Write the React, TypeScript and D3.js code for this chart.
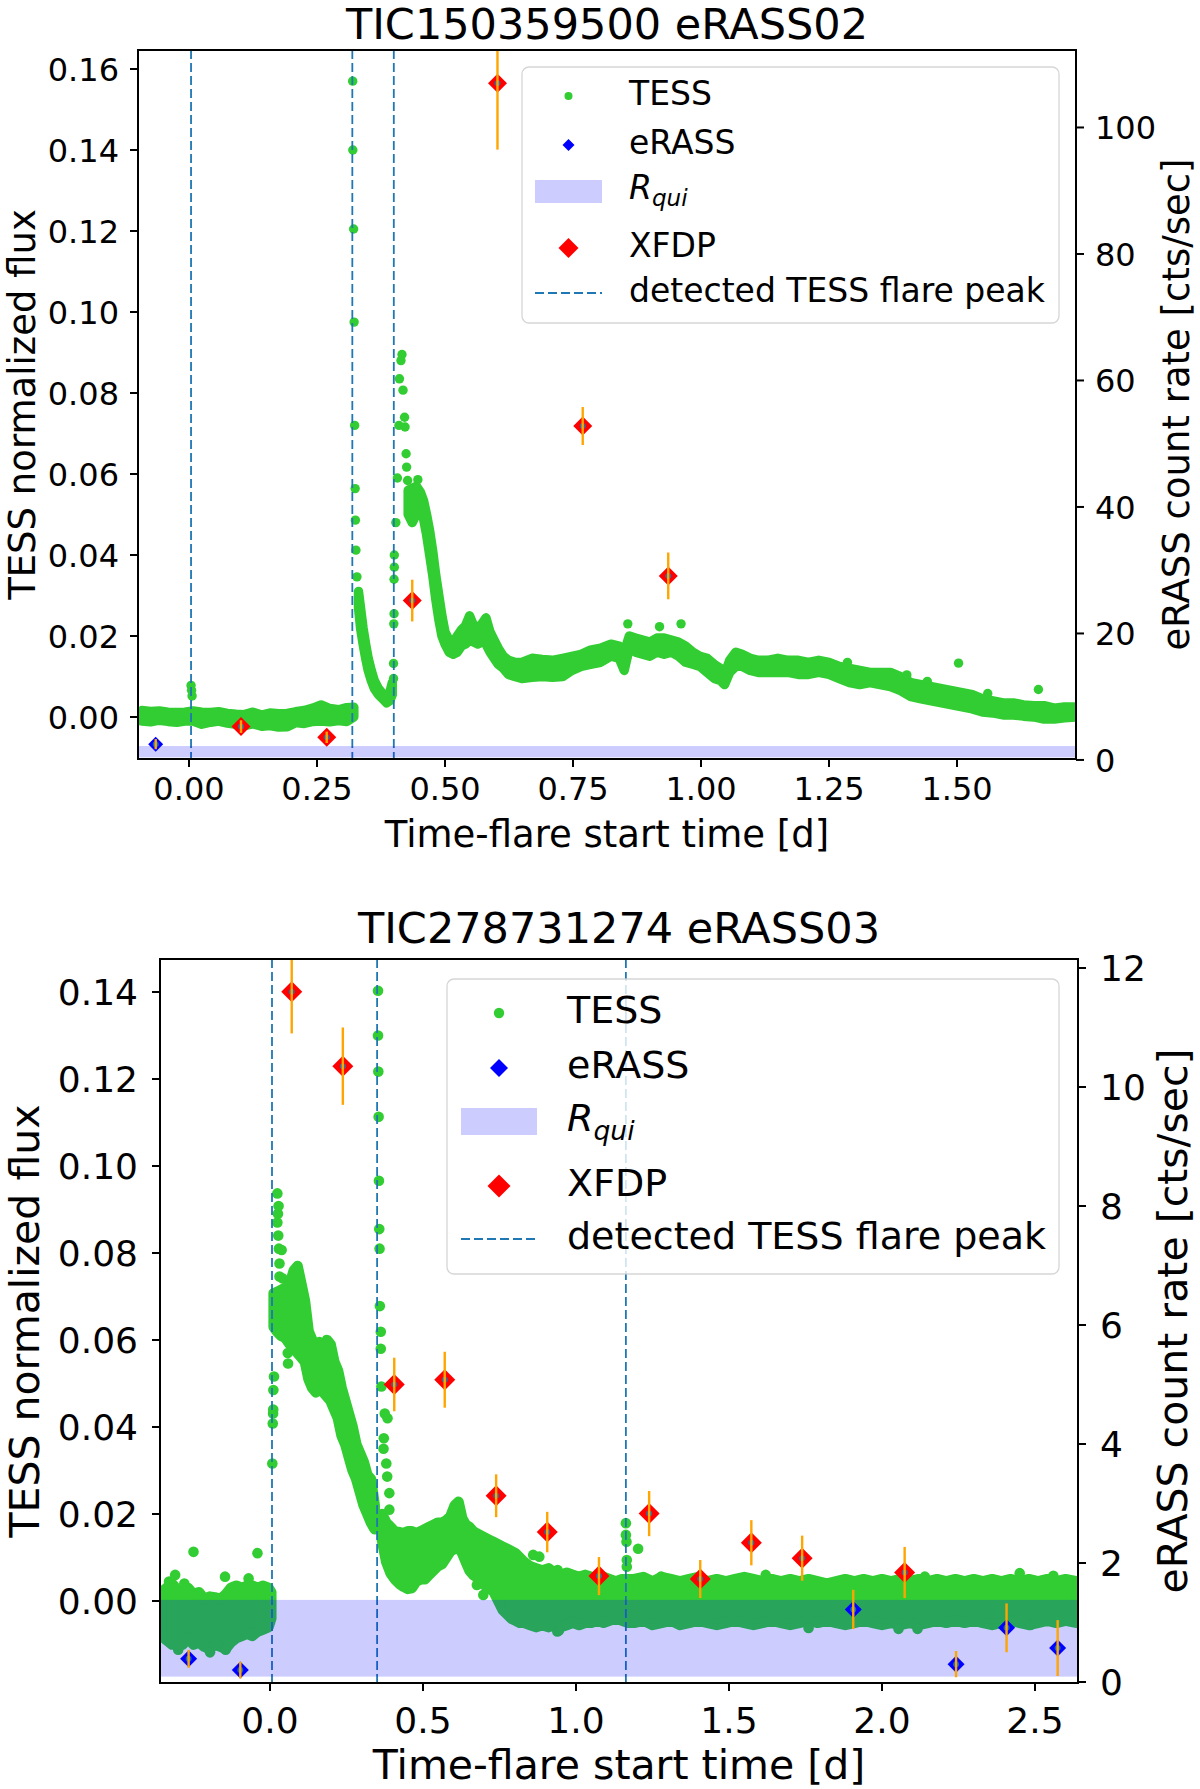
import React from 'react';
import * as d3 from 'd3';

type Row = [number, number, number]; // time, low flux, high flux of the dense point cloud
type Pt = [number, number];

const FONT = 'DejaVu Sans, Verdana, sans-serif';
const GREEN = '#32cd32';
const PEAK_BLUE = '#1f77b4';

// ---------- TIC150359500 eRASS02 ----------
const tessTopQuiet: Row[] = [
  [-0.092, -0.0010, 0.0016], [-0.075, -0.0012, 0.0014], [-0.058, -0.0008, 0.0015],
  [-0.041, -0.0011, 0.0012], [-0.024, -0.0013, 0.0011], [-0.008, -0.0010, 0.0012],
  [0.008, -0.0010, 0.0015], [0.025, -0.0018, 0.0012], [0.042, -0.0013, 0.0011],
  [0.058, -0.0010, 0.0013], [0.075, -0.0015, 0.0009], [0.092, -0.0018, 0.0007],
  [0.108, -0.0021, 0.0006], [0.125, -0.0017, 0.0012], [0.142, -0.0023, 0.0005],
  [0.158, -0.0021, 0.0010], [0.175, -0.0025, 0.0008], [0.192, -0.0024, 0.0009],
  [0.208, -0.0014, 0.0013], [0.225, -0.0016, 0.0016], [0.242, -0.0011, 0.0022],
  [0.258, -0.0010, 0.0030], [0.275, -0.0012, 0.0021], [0.292, -0.0009, 0.0018],
  [0.308, -0.0011, 0.0023], [0.322, 0.0000, 0.0024],
];
const tessTopDecay1: Row[] = [
  [0.331, 0.027, 0.031], [0.335, 0.022, 0.027], [0.340, 0.018, 0.022], [0.345, 0.0145, 0.018],
  [0.350, 0.0115, 0.0145], [0.356, 0.009, 0.0115], [0.362, 0.007, 0.009], [0.370, 0.0055, 0.007],
  [0.378, 0.0045, 0.0058], [0.386, 0.0035, 0.005], [0.392, 0.004, 0.006], [0.397, 0.0055, 0.0085],
];
const tessTopDecay2: Row[] = [
  [0.428, 0.0500, 0.0560], [0.436, 0.0480, 0.0565], [0.444, 0.0500, 0.0570], [0.452, 0.0510, 0.0555],
  [0.458, 0.0490, 0.0535], [0.464, 0.0450, 0.0500], [0.470, 0.0400, 0.0460], [0.476, 0.0350, 0.0410],
  [0.482, 0.0290, 0.0350], [0.488, 0.0240, 0.0300], [0.494, 0.0200, 0.0250], [0.500, 0.0180, 0.0210],
  [0.508, 0.0160, 0.0190], [0.516, 0.0155, 0.0185], [0.524, 0.0160, 0.0200], [0.532, 0.0175, 0.0215],
  [0.540, 0.0180, 0.0225], [0.548, 0.0190, 0.0250], [0.556, 0.0185, 0.0225], [0.564, 0.0180, 0.0220],
  [0.572, 0.0185, 0.0230], [0.580, 0.0180, 0.0245], [0.588, 0.0160, 0.0210], [0.596, 0.0145, 0.0190],
  [0.604, 0.0130, 0.0170], [0.614, 0.0120, 0.0150], [0.624, 0.0105, 0.0140], [0.636, 0.0100, 0.0135],
  [0.650, 0.0095, 0.0135], [0.670, 0.0098, 0.0145], [0.690, 0.0100, 0.0142], [0.710, 0.0098, 0.0140],
  [0.730, 0.0100, 0.0145], [0.748, 0.0115, 0.0150], [0.766, 0.0125, 0.0155], [0.784, 0.0130, 0.0165],
  [0.804, 0.0135, 0.0170], [0.824, 0.0150, 0.0180], [0.840, 0.0145, 0.0175], [0.850, 0.0115, 0.0160],
  [0.860, 0.0170, 0.0200], [0.872, 0.0160, 0.0195], [0.886, 0.0155, 0.0190], [0.900, 0.0150, 0.0185],
  [0.914, 0.0160, 0.0195], [0.928, 0.0155, 0.0195], [0.942, 0.0160, 0.0190], [0.956, 0.0150, 0.0185],
  [0.970, 0.0135, 0.0175], [0.984, 0.0130, 0.0160], [0.998, 0.0125, 0.0150], [1.012, 0.0110, 0.0145],
  [1.026, 0.0095, 0.0130], [1.038, 0.0090, 0.0120], [1.046, 0.0080, 0.0105], [1.056, 0.0110, 0.0140],
  [1.068, 0.0125, 0.0160], [1.080, 0.0125, 0.0155], [1.096, 0.0115, 0.0145], [1.112, 0.0110, 0.0140],
  [1.130, 0.0110, 0.0140], [1.150, 0.0110, 0.0145], [1.170, 0.0110, 0.0140], [1.190, 0.0105, 0.0140],
  [1.210, 0.0105, 0.0135], [1.230, 0.0110, 0.0140], [1.250, 0.0105, 0.0135], [1.270, 0.0095, 0.0125],
  [1.290, 0.0085, 0.0120], [1.310, 0.0080, 0.0115], [1.330, 0.0085, 0.0110], [1.350, 0.0080, 0.0110],
  [1.370, 0.0075, 0.0110], [1.390, 0.0065, 0.0100], [1.410, 0.0050, 0.0085], [1.430, 0.0045, 0.0080],
  [1.450, 0.0040, 0.0075], [1.470, 0.0035, 0.0070], [1.490, 0.0030, 0.0065], [1.510, 0.0025, 0.0060],
  [1.530, 0.0020, 0.0055], [1.550, 0.0012, 0.0045], [1.570, 0.0010, 0.0040], [1.590, 0.0005, 0.0035],
  [1.610, 0.0005, 0.0035], [1.630, 0.0002, 0.0030], [1.650, 0.0000, 0.0028], [1.670, -0.0005, 0.0028],
  [1.690, -0.0005, 0.0022], [1.710, -0.0002, 0.0025], [1.732, 0.0000, 0.0025],
];
const tessTopSingles: Pt[] = [
  [0.004, 0.0078], [0.005, 0.0066], [0.006, 0.0052],
  [0.3197, 0.157], [0.320, 0.140], [0.3215, 0.1205], [0.3225, 0.0975], [0.3235, 0.072],
  [0.3245, 0.0564], [0.325, 0.0486], [0.326, 0.0412], [0.328, 0.0346],
  [0.3995, 0.0095], [0.3995, 0.0132], [0.400, 0.023], [0.4005, 0.0255], [0.4005, 0.034],
  [0.401, 0.037], [0.401, 0.040], [0.404, 0.048], [0.407, 0.059], [0.410, 0.072],
  [0.411, 0.0835], [0.414, 0.088], [0.416, 0.0895], [0.418, 0.0807], [0.421, 0.074],
  [0.422, 0.0716], [0.424, 0.065], [0.425, 0.0617], [0.427, 0.0584], [0.447, 0.0586],
  [0.857, 0.023], [0.919, 0.0223], [0.961, 0.023], [1.503, 0.0133], [1.659, 0.0068],
  [1.286, 0.0135], [1.402, 0.0104], [1.442, 0.0088], [1.560, 0.0058],
];
const peaksTop = [0.004, 0.319, 0.400];
const quietTop: [number, number] = [0.4, 2.2];
const erassTopTime = [-0.065, 0.1016, 0.269, 0.436, 0.6025, 0.769, 0.936];
const erassTopRate = [2.5, 5.27, 3.58, 25.2, 107.0, 52.8, 29.1];
const erassTopErr = [0.8, 1.0, 0.9, 3.3, 10.5, 3.0, 3.7];
const xfdpTopFlag = [0, 1, 1, 1, 1, 1, 1];

// ---------- TIC278731274 eRASS03 ----------
const tessBotQuiet: Row[] = [
  [-0.355, -0.0080, 0.0020], [-0.338, -0.0090, 0.0030], [-0.320, -0.0100, 0.0040],
  [-0.302, -0.0095, 0.0025], [-0.285, -0.0100, 0.0020], [-0.268, -0.0085, 0.0030],
  [-0.250, -0.0100, 0.0015], [-0.232, -0.0095, 0.0020], [-0.215, -0.0105, 0.0005],
  [-0.197, -0.0110, 0.0010], [-0.180, -0.0100, 0.0008], [-0.162, -0.0105, 0.0005],
  [-0.145, -0.0110, 0.0015], [-0.128, -0.0095, 0.0030], [-0.110, -0.0085, 0.0035],
  [-0.092, -0.0080, 0.0030], [-0.075, -0.0075, 0.0035], [-0.058, -0.0080, 0.0035],
  [-0.040, -0.0070, 0.0030], [-0.022, -0.0065, 0.0035], [-0.005, -0.0060, 0.0030],
  [0.004, -0.0040, 0.0020],
];
const tessBotDecay1: Row[] = [
  [0.012, 0.063, 0.0707], [0.022, 0.062, 0.071], [0.036, 0.061, 0.0715], [0.050, 0.0605, 0.072],
  [0.065, 0.059, 0.073], [0.078, 0.058, 0.076], [0.090, 0.057, 0.077], [0.102, 0.056, 0.073],
  [0.114, 0.055, 0.069], [0.126, 0.051, 0.062], [0.138, 0.049, 0.060], [0.150, 0.048, 0.059],
  [0.162, 0.0485, 0.0595], [0.174, 0.048, 0.058], [0.186, 0.047, 0.060], [0.198, 0.046, 0.059],
  [0.210, 0.044, 0.055], [0.222, 0.042, 0.053], [0.234, 0.038, 0.049], [0.246, 0.036, 0.046],
  [0.258, 0.033, 0.043], [0.270, 0.030, 0.040], [0.282, 0.028, 0.036], [0.294, 0.025, 0.034],
  [0.306, 0.022, 0.032], [0.318, 0.020, 0.029], [0.330, 0.018, 0.028], [0.342, 0.0165, 0.022],
];
const tessBotDecay2: Row[] = [
  [0.366, 0.014, 0.020], [0.380, 0.009, 0.018], [0.394, 0.0064, 0.017], [0.408, 0.005, 0.016],
  [0.422, 0.004, 0.0158], [0.436, 0.0033, 0.0156], [0.450, 0.0028, 0.016], [0.464, 0.003, 0.016],
  [0.478, 0.0045, 0.0156], [0.492, 0.005, 0.016], [0.506, 0.005, 0.0165], [0.520, 0.006, 0.017],
  [0.534, 0.007, 0.0175], [0.548, 0.008, 0.018], [0.562, 0.0085, 0.018], [0.576, 0.010, 0.0185],
  [0.590, 0.0115, 0.0195], [0.604, 0.012, 0.022], [0.616, 0.0125, 0.0228], [0.628, 0.011, 0.019],
  [0.640, 0.009, 0.0175], [0.652, 0.007, 0.017], [0.664, 0.006, 0.016], [0.676, 0.0055, 0.0155],
  [0.690, 0.005, 0.015], [0.704, 0.0045, 0.0145], [0.718, 0.003, 0.014], [0.732, 0.002, 0.0135],
  [0.746, 0.000, 0.013], [0.760, -0.002, 0.0125], [0.774, -0.003, 0.012], [0.788, -0.004, 0.0115],
  [0.802, -0.0045, 0.011], [0.816, -0.005, 0.010], [0.830, -0.005, 0.009], [0.850, -0.0055, 0.008],
  [0.870, -0.006, 0.0075], [0.890, -0.0055, 0.007], [0.910, -0.006, 0.0075], [0.930, -0.0055, 0.0065],
  [0.950, -0.006, 0.006], [0.970, -0.0055, 0.0065], [0.990, -0.005, 0.006], [1.010, -0.0055, 0.0055],
  [1.030, -0.005, 0.006], [1.050, -0.005, 0.0055], [1.070, -0.0045, 0.005], [1.090, -0.005, 0.0055],
  [1.110, -0.0045, 0.005], [1.130, -0.004, 0.0045], [1.150, -0.0045, 0.005], [1.170, -0.005, 0.005],
  [1.190, -0.0050, 0.0050], [1.220, -0.0045, 0.0055], [1.250, -0.0055, 0.0045], [1.280, -0.0050, 0.0055],
  [1.310, -0.0045, 0.0050], [1.340, -0.0055, 0.0045], [1.370, -0.0050, 0.0050], [1.400, -0.0045, 0.0055],
  [1.430, -0.0050, 0.0045], [1.460, -0.0055, 0.0050], [1.490, -0.0050, 0.0045], [1.520, -0.0045, 0.0050],
  [1.550, -0.0050, 0.0055], [1.580, -0.0055, 0.0050], [1.610, -0.0050, 0.0045], [1.640, -0.0045, 0.0050],
  [1.670, -0.0050, 0.0045], [1.700, -0.0055, 0.0050], [1.730, -0.0050, 0.0045], [1.760, -0.0045, 0.0050],
  [1.790, -0.0050, 0.0045], [1.820, -0.0045, 0.0040], [1.850, -0.0050, 0.0045], [1.880, -0.0055, 0.0050],
  [1.910, -0.0050, 0.0045], [1.940, -0.0045, 0.0050], [1.970, -0.0050, 0.0045], [2.000, -0.0055, 0.0050],
  [2.030, -0.0050, 0.0045], [2.060, -0.0055, 0.0050], [2.090, -0.0050, 0.0045], [2.120, -0.0055, 0.0050],
  [2.150, -0.0050, 0.0045], [2.180, -0.0045, 0.0050], [2.210, -0.0050, 0.0045], [2.240, -0.0045, 0.0050],
  [2.270, -0.0050, 0.0045], [2.300, -0.0045, 0.0050], [2.330, -0.0050, 0.0045], [2.360, -0.0055, 0.0050],
  [2.390, -0.0050, 0.0045], [2.420, -0.0045, 0.0050], [2.450, -0.0050, 0.0045], [2.480, -0.0055, 0.0050],
  [2.510, -0.0050, 0.0045], [2.540, -0.0045, 0.0050], [2.570, -0.0050, 0.0045], [2.600, -0.0045, 0.0050],
  [2.637, -0.0050, 0.0045],
];
const tessBotSingles: Pt[] = [
  [-0.310, 0.0060], [-0.250, 0.0113], [-0.147, 0.0056], [-0.041, 0.0110], [-0.196, -0.0118], [-0.145, -0.0112],
  [-0.330, 0.0045], [-0.280, 0.0040], [-0.070, 0.0052], [-0.300, -0.0112],
  [0.0076, 0.0316], [0.009, 0.0408], [0.010, 0.0431], [0.0105, 0.044], [0.011, 0.0485], [0.013, 0.0516],
  [0.016, 0.0646], [0.019, 0.0677], [0.024, 0.0937], [0.028, 0.0908], [0.026, 0.089], [0.024, 0.087],
  [0.027, 0.084], [0.029, 0.081], [0.031, 0.0776], [0.031, 0.0746], [0.0405, 0.0742], [0.038, 0.0807],
  [0.058, 0.057], [0.059, 0.0546],
  [0.353, 0.1403], [0.353, 0.130], [0.354, 0.1217], [0.355, 0.1113], [0.356, 0.0966], [0.357, 0.0855],
  [0.358, 0.081], [0.359, 0.0678], [0.362, 0.0619], [0.362, 0.058], [0.364, 0.0493], [0.375, 0.0431],
  [0.384, 0.042], [0.372, 0.0374], [0.371, 0.035], [0.380, 0.0316], [0.383, 0.0286], [0.390, 0.0248],
  [0.390, 0.021],
  [0.676, 0.0037], [0.700, 0.0037], [0.720, 0.0037], [0.697, 0.0014], [0.860, 0.0106], [0.880, 0.0102],
  [0.940, 0.0071], [0.939, -0.0070], [0.944, -0.0068],
  [1.163, 0.0179], [1.163, 0.0152], [1.165, 0.0136], [1.203, 0.012], [1.166, 0.0094], [1.166, 0.0079],
  [1.278, 0.0056], [1.620, 0.0060], [1.760, -0.0062], [2.054, -0.0064], [2.116, -0.0064], [2.140, 0.0056],
  [2.450, 0.0064], [2.485, -0.0055], [2.560, 0.0058],
];
const peaksBot = [0.0065, 0.350, 1.163];
const quietBot: [number, number] = [0.09, 1.38];
const erassBotTime = [-0.266, -0.097, 0.071, 0.238, 0.406, 0.571, 0.739, 0.906, 1.075, 1.239, 1.406, 1.573, 1.739, 1.906, 2.074, 2.242, 2.407, 2.574];
const erassBotRate = [0.39, 0.20, 11.6, 10.35, 5.0, 5.08, 3.13, 2.52, 1.78, 2.83, 1.73, 2.34, 2.08, 1.22, 1.84, 0.30, 0.91, 0.57];
const erassBotErr = [0.15, 0.14, 0.7, 0.65, 0.45, 0.47, 0.36, 0.34, 0.32, 0.38, 0.32, 0.38, 0.38, 0.33, 0.43, 0.22, 0.41, 0.47];
const xfdpBotFlag = [0, 0, 1, 1, 1, 1, 1, 1, 1, 1, 1, 1, 1, 0, 1, 0, 0, 0];

// ticks
const topXTicks = [0, 0.25, 0.5, 0.75, 1.0, 1.25, 1.5];
const topYTicks = [0, 0.02, 0.04, 0.06, 0.08, 0.1, 0.12, 0.14, 0.16];
const topRTicks = [0, 20, 40, 60, 80, 100];
const botXTicks = [0, 0.5, 1.0, 1.5, 2.0, 2.5];
const botYTicks = [0, 0.02, 0.04, 0.06, 0.08, 0.1, 0.12, 0.14];
const botRTicks = [0, 2, 4, 6, 8, 10, 12];

interface LegendCfg {
  l: number; t: number; r: number; b: number;
  hx0: number; hx1: number; tx: number; rows: number[]; patch: [number, number];
  dotR: number; erassH: number; xfdpH: number; fs: number;
}
interface PanelCfg {
  id: string; title: string;
  l: number; r: number; t: number; b: number;
  xDomain: [number, number]; yDomain: [number, number]; rDomain: [number, number];
  xTicks: number[]; yTicks: number[]; rTicks: number[]; xFmt: string;
  bands: Row[][]; singles: Pt[]; peaks: number[]; quiet: [number, number];
  eT: number[]; eR: number[]; eE: number[]; xf: number[];
  dotR: number; erassH: number; xfdpH: number;
  fsTitle: number; fsLabel: number; fsTick: number;
  titleY: number; xTickY: number; xLabelY: number; yLabelX: number; rLabelX: number; tickGap: number;
  legend: LegendCfg;
}

const diamond = (cx: number, cy: number, h: number) =>
  `M${cx},${cy - h}L${cx + h},${cy}L${cx},${cy + h}L${cx - h},${cy}Z`;

function Legend({ L }: { L: LegendCfg }) {
  const cx = (L.hx0 + L.hx1) / 2;
  const base = (y: number) => y + 0.35 * L.fs - 3;
  return (
    <g fontSize={L.fs}>
      <rect x={L.l} y={L.t} width={L.r - L.l} height={L.b - L.t} rx={7}
        fill="#ffffff" fillOpacity={0.8} stroke="#cccccc" strokeOpacity={0.8} strokeWidth={1.3} />
      <circle cx={cx} cy={L.rows[0]} r={L.dotR} fill={GREEN} />
      <text x={L.tx} y={base(L.rows[0])}>TESS</text>
      <path d={diamond(cx, L.rows[1], L.erassH)} fill="#0000ff" />
      <text x={L.tx} y={base(L.rows[1])}>eRASS</text>
      <rect x={L.hx0} y={L.patch[0]} width={L.hx1 - L.hx0} height={L.patch[1] - L.patch[0]} fill="#0000ff" fillOpacity={0.2} />
      <text x={L.tx} y={base(L.rows[2]) - 1} fontStyle="italic">
        R<tspan fontSize={L.fs * 0.7} dy={L.fs * 0.22}>qui</tspan>
      </text>
      <path d={diamond(cx, L.rows[3], L.xfdpH)} fill="#ff0000" />
      <text x={L.tx} y={base(L.rows[3])}>XFDP</text>
      <line x1={L.hx0} x2={L.hx1} y1={L.rows[4]} y2={L.rows[4]} stroke={PEAK_BLUE} strokeWidth={1.8} strokeDasharray="9 4" />
      <text x={L.tx} y={base(L.rows[4])}>detected TESS flare peak</text>
    </g>
  );
}

function Panel({ c }: { c: PanelCfg }) {
  const x = d3.scaleLinear().domain(c.xDomain).range([c.l, c.r]);
  const y = d3.scaleLinear().domain(c.yDomain).range([c.b, c.t]);
  const yr = d3.scaleLinear().domain(c.rDomain).range([c.b, c.t]);
  const area = d3.area<Row>().x(d => x(d[0])).y0(d => y(d[1])).y1(d => y(d[2]));
  const fx = d3.format(c.xFmt);
  const fy = d3.format('.2f');
  const clip = `clip-${c.id}`;
  const idx = d3.range(c.eT.length);
  const tickLen = 8;
  return (
    <g>
      <defs>
        <clipPath id={clip}><rect x={c.l} y={c.t} width={c.r - c.l} height={c.b - c.t} /></clipPath>
      </defs>
      <text x={(c.l + c.r) / 2} y={c.titleY} fontSize={c.fsTitle} textAnchor="middle">{c.title}</text>
      <g clipPath={`url(#${clip})`}>
        {c.bands.map((seg, i) => (
          <path key={i} d={area(seg) || ''} fill={GREEN} stroke={GREEN} strokeWidth={c.dotR * 2} strokeLinejoin="round" />
        ))}
        {c.singles.map((p, i) => <circle key={i} cx={x(p[0])} cy={y(p[1])} r={c.dotR} fill={GREEN} />)}
        {c.peaks.map((t, i) => (
          <line key={i} x1={x(t)} x2={x(t)} y1={c.t} y2={c.b} stroke={PEAK_BLUE} strokeWidth={1.8} strokeDasharray="9 4" />
        ))}
        <rect x={c.l} width={c.r - c.l} y={yr(c.quiet[1])} height={yr(c.quiet[0]) - yr(c.quiet[1])} fill="#0000ff" fillOpacity={0.2} />
        {idx.map(i => <path key={'e' + i} d={diamond(x(c.eT[i]), yr(c.eR[i]), c.erassH)} fill="#0000ff" />)}
        {idx.filter(i => c.xf[i]).map(i => <path key={'x' + i} d={diamond(x(c.eT[i]), yr(c.eR[i]), c.xfdpH)} fill="#ff0000" />)}
        {idx.map(i => <circle key={'c' + i} cx={x(c.eT[i])} cy={yr(c.eR[i])} r={3} fill={PEAK_BLUE} fillOpacity={0.85} />)}
        {idx.map(i => (
          <line key={'b' + i} x1={x(c.eT[i])} x2={x(c.eT[i])} y1={yr(c.eR[i] - c.eE[i])} y2={yr(c.eR[i] + c.eE[i])}
            stroke="#ffa500" strokeWidth={2.4} />
        ))}
      </g>
      {/* spines */}
      <rect x={c.l} y={c.t} width={c.r - c.l} height={c.b - c.t} fill="none" stroke="#000" strokeWidth={2} />
      {/* x axis */}
      {c.xTicks.map(t => (
        <g key={'xt' + t}>
          <line x1={x(t)} x2={x(t)} y1={c.b} y2={c.b + tickLen} stroke="#000" strokeWidth={2} />
          <text x={x(t)} y={c.xTickY} fontSize={c.fsTick} textAnchor="middle">{fx(t)}</text>
        </g>
      ))}
      <text x={(c.l + c.r) / 2} y={c.xLabelY} fontSize={c.fsLabel} textAnchor="middle">Time-flare start time [d]</text>
      {/* left axis */}
      {c.yTicks.map(t => (
        <g key={'yt' + t}>
          <line x1={c.l - tickLen} x2={c.l} y1={y(t)} y2={y(t)} stroke="#000" strokeWidth={2} />
          <text x={c.l - c.tickGap} y={y(t) + 0.365 * c.fsTick} fontSize={c.fsTick} textAnchor="end">{fy(t)}</text>
        </g>
      ))}
      <text transform={`translate(${c.yLabelX},${(c.t + c.b) / 2}) rotate(-90)`} fontSize={c.fsLabel} textAnchor="middle">
        TESS normalized flux
      </text>
      {/* right axis */}
      {c.rTicks.map(t => (
        <g key={'rt' + t}>
          <line x1={c.r} x2={c.r + tickLen} y1={yr(t)} y2={yr(t)} stroke="#000" strokeWidth={2} />
          <text x={c.r + c.tickGap} y={yr(t) + 0.365 * c.fsTick} fontSize={c.fsTick} textAnchor="start">{t}</text>
        </g>
      ))}
      <text transform={`translate(${c.rLabelX},${(c.t + c.b) / 2}) rotate(-90)`} fontSize={c.fsLabel} textAnchor="middle">
        eRASS count rate [cts/sec]
      </text>
      <Legend L={c.legend} />
    </g>
  );
}

const topPanel: PanelCfg = {
  id: 'top', title: 'TIC150359500 eRASS02',
  l: 138, r: 1076, t: 50, b: 759,
  xDomain: [-0.0996, 1.7324], yDomain: [-0.01037, 0.16469], rDomain: [0.15, 112.25],
  xTicks: topXTicks, yTicks: topYTicks, rTicks: topRTicks, xFmt: '.2f',
  bands: [tessTopQuiet, tessTopDecay1, tessTopDecay2], singles: tessTopSingles, peaks: peaksTop, quiet: quietTop,
  eT: erassTopTime, eR: erassTopRate, eE: erassTopErr, xf: xfdpTopFlag,
  dotR: 4.7, erassH: 7.5, xfdpH: 9.5,
  fsTitle: 43, fsLabel: 37, fsTick: 32,
  titleY: 39, xTickY: 800, xLabelY: 847, yLabelX: 35, rLabelX: 1189, tickGap: 19,
  legend: {
    l: 522, t: 67, r: 1059, b: 323, hx0: 535, hx1: 602, tx: 629,
    rows: [96, 145, 191, 248, 293], patch: [180, 203], dotR: 4, erassH: 6, xfdpH: 10, fs: 33,
  },
};

const botPanel: PanelCfg = {
  id: 'bot', title: 'TIC278731274 eRASS03',
  l: 160, r: 1078, t: 959, b: 1683,
  xDomain: [-0.3595, 2.6405], yDomain: [-0.01885, 0.14759], rDomain: [-0.017, 12.151],
  xTicks: botXTicks, yTicks: botYTicks, rTicks: botRTicks, xFmt: '.1f',
  bands: [tessBotQuiet, tessBotDecay1, tessBotDecay2], singles: tessBotSingles, peaks: peaksBot, quiet: quietBot,
  eT: erassBotTime, eR: erassBotRate, eE: erassBotErr, xf: xfdpBotFlag,
  dotR: 5.3, erassH: 8.5, xfdpH: 10.5,
  fsTitle: 43, fsLabel: 41, fsTick: 36,
  titleY: 943, xTickY: 1733, xLabelY: 1779, yLabelX: 39, rLabelX: 1187, tickGap: 22,
  legend: {
    l: 447, t: 979, r: 1059, b: 1274, hx0: 461, hx1: 537, tx: 567,
    rows: [1013, 1068, 1122, 1186, 1239], patch: [1108, 1135], dotR: 5.2, erassH: 9, xfdpH: 11.5, fs: 38,
  },
};

export default function App() {
  return (
    <div style={{ position: 'absolute', left: 0, top: 0 }}>
      <svg width={1200} height={1789} viewBox="0 0 1200 1789" style={{ display: 'block', background: '#fff' }}
        fontFamily={FONT} fill="#000">
        <rect width={1200} height={1789} fill="#fff" />
        <Panel c={topPanel} />
        <Panel c={botPanel} />
      </svg>
    </div>
  );
}
